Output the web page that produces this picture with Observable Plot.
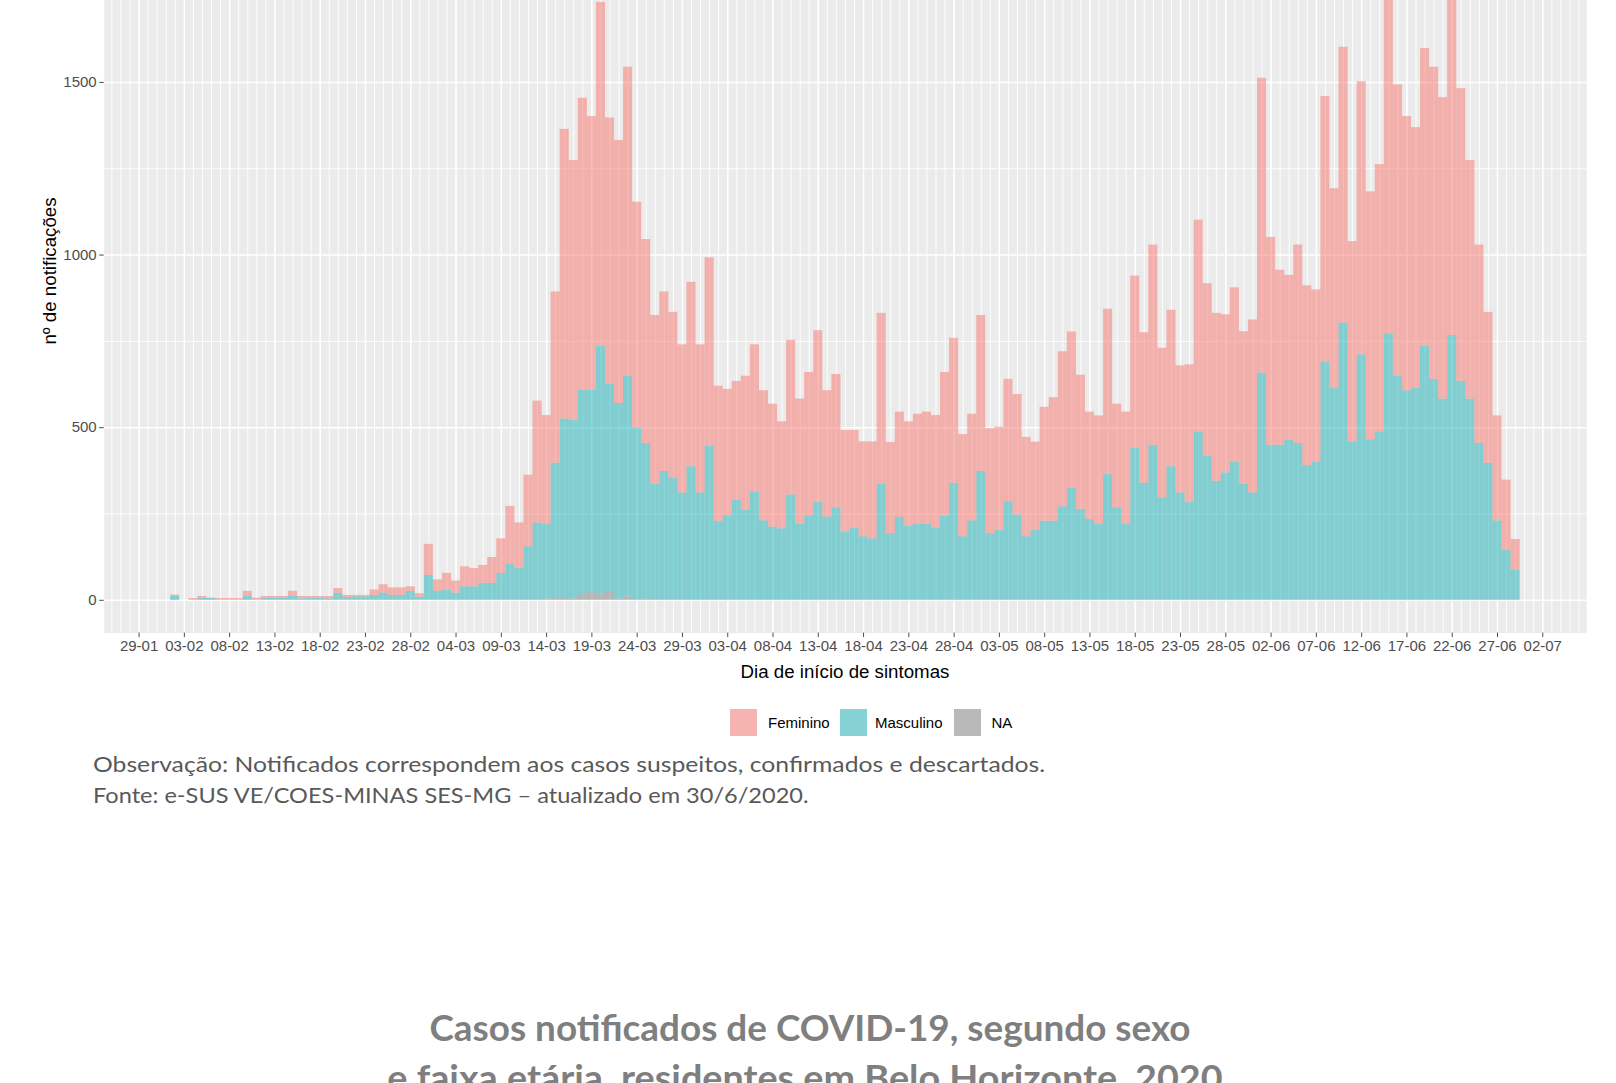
<!DOCTYPE html>
<html><head><meta charset="utf-8">
<script src="https://cdn.jsdelivr.net/npm/d3@7"></script>
<script src="https://cdn.jsdelivr.net/npm/@observablehq/plot@0.6"></script>
<style>
html,body{margin:0;padding:0;background:#fff;}
#page{position:relative;width:1616px;height:1083px;overflow:hidden;background:#fff;font-family:"Liberation Sans",Arial,sans-serif;}
#chart{position:absolute;left:0;top:-90px;}
.t{position:absolute;white-space:nowrap;line-height:1;}
.key{position:absolute;width:27px;height:27px;background:#F2F2F2;}
.key div{width:100%;height:100%;opacity:0.5;}
</style></head><body><div id="page"><div id="chart"></div></div>
<script>
// categories
const inicio = "2020-02-02", fim = "2020-06-30"; // daily bars 02-02 .. 29-06
const sexos = ["Feminino", "Masculino", "NA"];
const cores = ["#F8766D", "#1AB0B6", "#7F7F7F"];
// series values (notifications per day of symptom onset)
const feminino = [4,0,5,5,1,4,4,4,15,5,5,5,5,15,7,5,5,7,14,6,4,4,16,24,22,22,13,10,
  90,33,48,35,58,53,52,75,100,167,132,207,
  353,314,496,839,753,845,792,997,771,762,895,653,591,489,
  520,480,429,534,429,546,391,366,344,389,
  426,377,356,310,448,362,415,498,366,386,
  294,283,275,281,495,264,305,302,319,325,325,417,
  420,296,309,452,304,299,354,349,288,256,330,358,
  449,452,389,311,313,479,300,324,499,436,
  580,433,453,368,399,613,499,486,458,504,442,501,
  854,602,507,478,575,521,498,768,579,799,
  580,791,718,774,1018,844,794,754,863,904,873,1133,
  848,691,575,437,304,204,88];
const masculino = [11,0,0,6,5,1,1,1,11,1,6,6,6,11,4,6,6,4,20,8,10,10,14,21,14,14,26,9,
  72,26,30,21,39,39,49,49,78,105,92,155,
  222,217,389,517,517,593,583,717,600,566,639,498,450,334,
  373,354,311,387,311,446,229,245,290,260,
  314,230,212,207,305,221,245,283,241,268,
  198,209,184,178,336,193,240,215,220,220,210,243,
  336,184,230,373,193,202,286,247,184,202,229,229,
  271,325,263,234,221,364,268,221,440,339,
  449,297,387,311,283,488,418,345,369,401,336,311,
  658,449,449,463,454,390,401,691,613,803,
  459,711,465,488,772,649,607,615,735,640,583,767,
  634,583,454,397,230,144,88];
const semInfo = [0,0,0,0,0,0,0,0,0,0,0,0,0,0,0,0,0,0,0,0,0,0,0,0,0,0,0,0,
  0,0,0,0,0,0,0,0,0,0,0,0,
  2,4,8,8,4,16,26,18,26,4,10,2,4,2,
  0,0,0,0,0,0,0,0,0,0,
  0,0,0,0,0,0,0,0,0,0,
  0,0,0,0,0,0,0,0,0,0,0,0,
  3,0,0,0,0,0,0,0,0,0,0,0,
  0,0,0,0,0,0,0,0,0,0,
  0,0,0,0,0,0,0,0,0,0,0,0,
  0,0,0,0,0,0,0,0,0,0,
  0,0,0,0,0,0,0,0,0,0,0,0,
  0,0,0,0,0,0,0];
// tick labels
const ticksX = ["2020-01-29","2020-02-03","2020-02-08","2020-02-13","2020-02-18","2020-02-23","2020-02-28",
  "2020-03-04","2020-03-09","2020-03-14","2020-03-19","2020-03-24","2020-03-29","2020-04-03","2020-04-08",
  "2020-04-13","2020-04-18","2020-04-23","2020-04-28","2020-05-03","2020-05-08","2020-05-13","2020-05-18",
  "2020-05-23","2020-05-28","2020-06-02","2020-06-07","2020-06-12","2020-06-17","2020-06-22","2020-06-27","2020-07-02"];
const ticksY = [0, 500, 1000, 1500];
const gradeMenorY = [250, 750, 1250, 1750];

const tickDates = ticksX.map(s => new Date(s));
const dias = d3.utcDay.range(new Date(inicio), new Date(fim));
const serie = {Feminino: feminino, Masculino: masculino, NA: semInfo};
const linhas = [];
for (const s of ["NA", "Masculino", "Feminino"]) {
  dias.forEach((d, i) => linhas.push({x1: d3.utcHour.offset(d, -12), x2: d3.utcHour.offset(d, 12), sexo: s, n: serie[s][i]}));
}
const origem = new Date("2020-01-29");
const xDomain = [new Date(+origem - 3.85 * 864e5), new Date(+origem + 159.85 * 864e5)];
const gradeDias = d3.utcDay.range(new Date("2020-01-26"), new Date("2020-07-07"));

const plot = Plot.plot({
  width: 1616, height: 793,
  marginLeft: 103.7, marginRight: 29.8, marginTop: 0, marginBottom: 70.4,
  style: {fontFamily: '"Liberation Sans", Arial, sans-serif', fontSize: "15px", background: "transparent", overflow: "visible"},
  x: {type: "utc", domain: xDomain},
  y: {domain: [-95, 1998]},
  color: {domain: sexos, range: cores},
  marks: [
    Plot.frame({fill: "#EBEBEB", stroke: null}),
    Plot.ruleX(gradeDias, {stroke: "white", strokeWidth: 0.9}),
    Plot.ruleX(tickDates, {stroke: "white", strokeWidth: 1.4}),
    Plot.ruleY(gradeMenorY, {stroke: "white", strokeWidth: 0.9}),
    Plot.ruleY(ticksY, {stroke: "white", strokeWidth: 1.4}),
    Plot.rectY(linhas, {x1: "x1", x2: "x2", y: "n", fill: "sexo", fillOpacity: 0.5}),
    Plot.axisX({ticks: tickDates, tickFormat: d3.utcFormat("%d-%m"), tickSize: 4.5, tickPadding: 3, fontSize: 15, label: null, color: "#4D4D4D"}),
    Plot.axisY({ticks: ticksY, tickFormat: d => String(d), tickSize: 4.5, tickPadding: 3, fontSize: 15, label: null, color: "#4D4D4D"})
  ]
});
document.getElementById("chart").appendChild(plot);

const page = document.getElementById("page");
function addText(txt, css) {
  const el = document.createElement("div");
  el.className = "t"; el.textContent = txt;
  Object.assign(el.style, css);
  page.appendChild(el);
  return el;
}
// axis titles
addText("nº de notificações", {left: "49.5px", top: "271px", fontSize: "18.7px", color: "#000",
  transform: "translate(-50%,-50%) rotate(-90deg)"});
addText("Dia de início de sintomas", {left: "845px", top: "672px", fontSize: "18.7px", color: "#000",
  transform: "translate(-50%,-50%)"});
// legend
const keyLeft = [729.7, 840, 954.4], textLeft = [768, 875, 991.4];
sexos.forEach((s, i) => {
  const k = document.createElement("div");
  k.className = "key"; k.style.left = keyLeft[i] + "px"; k.style.top = "709px";
  const inner = document.createElement("div"); inner.style.background = cores[i];
  k.appendChild(inner); page.appendChild(k);
  addText(s, {left: textLeft[i] + "px", top: "722px", fontSize: "15px", color: "#000", transform: "translateY(-50%)"});
});
// captions & title, fit to measured widths
function fitLeft(el, w) {
  const s = w / el.offsetWidth;
  el.style.transformOrigin = "0 50%";
  el.style.transform = `translateY(-50%) scaleX(${s})`;
}
function fitCenter(el, w) {
  const s = w / el.offsetWidth;
  el.style.transform = `translate(-50%,-50%) scaleX(${s})`;
}
const capCss = {fontFamily: "Lato, 'Open Sans', sans-serif", fontSize: "21px", color: "#595959"};
fitLeft(addText("Observação: Notificados correspondem aos casos suspeitos, confirmados e descartados.", {...capCss, left: "92.8px", top: "762.6px"}), 952);
fitLeft(addText("Fonte: e-SUS VE/COES-MINAS SES-MG – atualizado em 30/6/2020.", {...capCss, left: "92.8px", top: "793.6px"}), 716);
const titCss = {fontFamily: "Lato, 'Open Sans', sans-serif", fontWeight: "bold", fontSize: "36px", color: "#7F7F7F"};
fitCenter(addText("Casos notificados de COVID-19, segundo sexo", {...titCss, left: "809.5px", top: "1026.5px"}), 761);
fitCenter(addText("e faixa etária, residentes em Belo Horizonte, 2020", {...titCss, left: "805px", top: "1077px"}), 835);
</script></body></html>
